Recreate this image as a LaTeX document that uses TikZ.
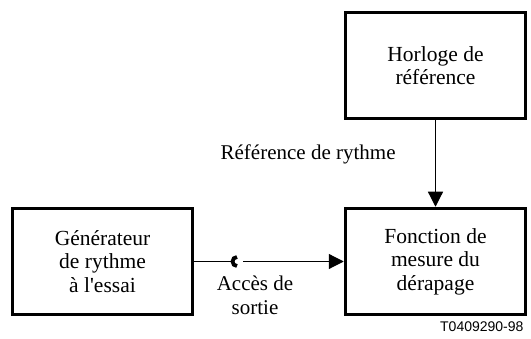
\documentclass[tikz,border=0pt]{standalone}
\usepackage{fontspec}
\setmainfont{Liberation Serif}
\newfontfamily\refsans{Liberation Sans}
\usetikzlibrary{arrows.meta, positioning}

\tikzset{
  bloc/.style={draw, line width=3.5pt, minimum width=180pt, minimum height=106pt,
    align=center, font=\fontsize{21.5}{23.5}\selectfont, inner sep=0pt},
  fil/.style={line width=1.2pt},
  fleche/.style={fil, -{Triangle[length=15pt, width=15pt]}},
  etiq/.style={align=center, font=\fontsize{21}{23.5}\selectfont}
}

\begin{document}
\begin{tikzpicture}[x=1pt, y=1pt]
\useasboundingbox (0,0) rectangle (531,338);

% blocs
\node[bloc] (horloge) at (435.5,272.5) {Horloge de\\r\'ef\'erence};
\node[bloc] (fonction) at (435.5,76.5) {Fonction de\\mesure du\\d\'erapage};
\node[bloc] (generateur) at (102.5,76.5) {G\'en\'erateur\\de rythme\\\`a l\textquotesingle essai};

% reference de rythme
\draw[fleche] (horloge) -- (fonction)
  node[etiq, pos=0.4, left=36pt] (refrythme) {R\'ef\'erence de rythme};

% acces de sortie
\coordinate (acces) at (237,76.5);
\draw[fil] (generateur.east |- acces) -- ([xshift=-4.5pt]acces);
\draw[line width=3.8pt] ([yshift=4.5pt]acces) arc[start angle=90, end angle=270, radius=4.5pt];
\draw[fleche] ([xshift=6pt]acces) -- (fonction.west |- acces);
\node[etiq, below=11pt of acces, xshift=18pt] (sortie) {Acc\`es de\\sortie};

\node[font=\refsans\fontsize{14}{16}\selectfont, anchor=east] (numero) at (527,11) {T0409290-98};

\end{tikzpicture}
\end{document}
